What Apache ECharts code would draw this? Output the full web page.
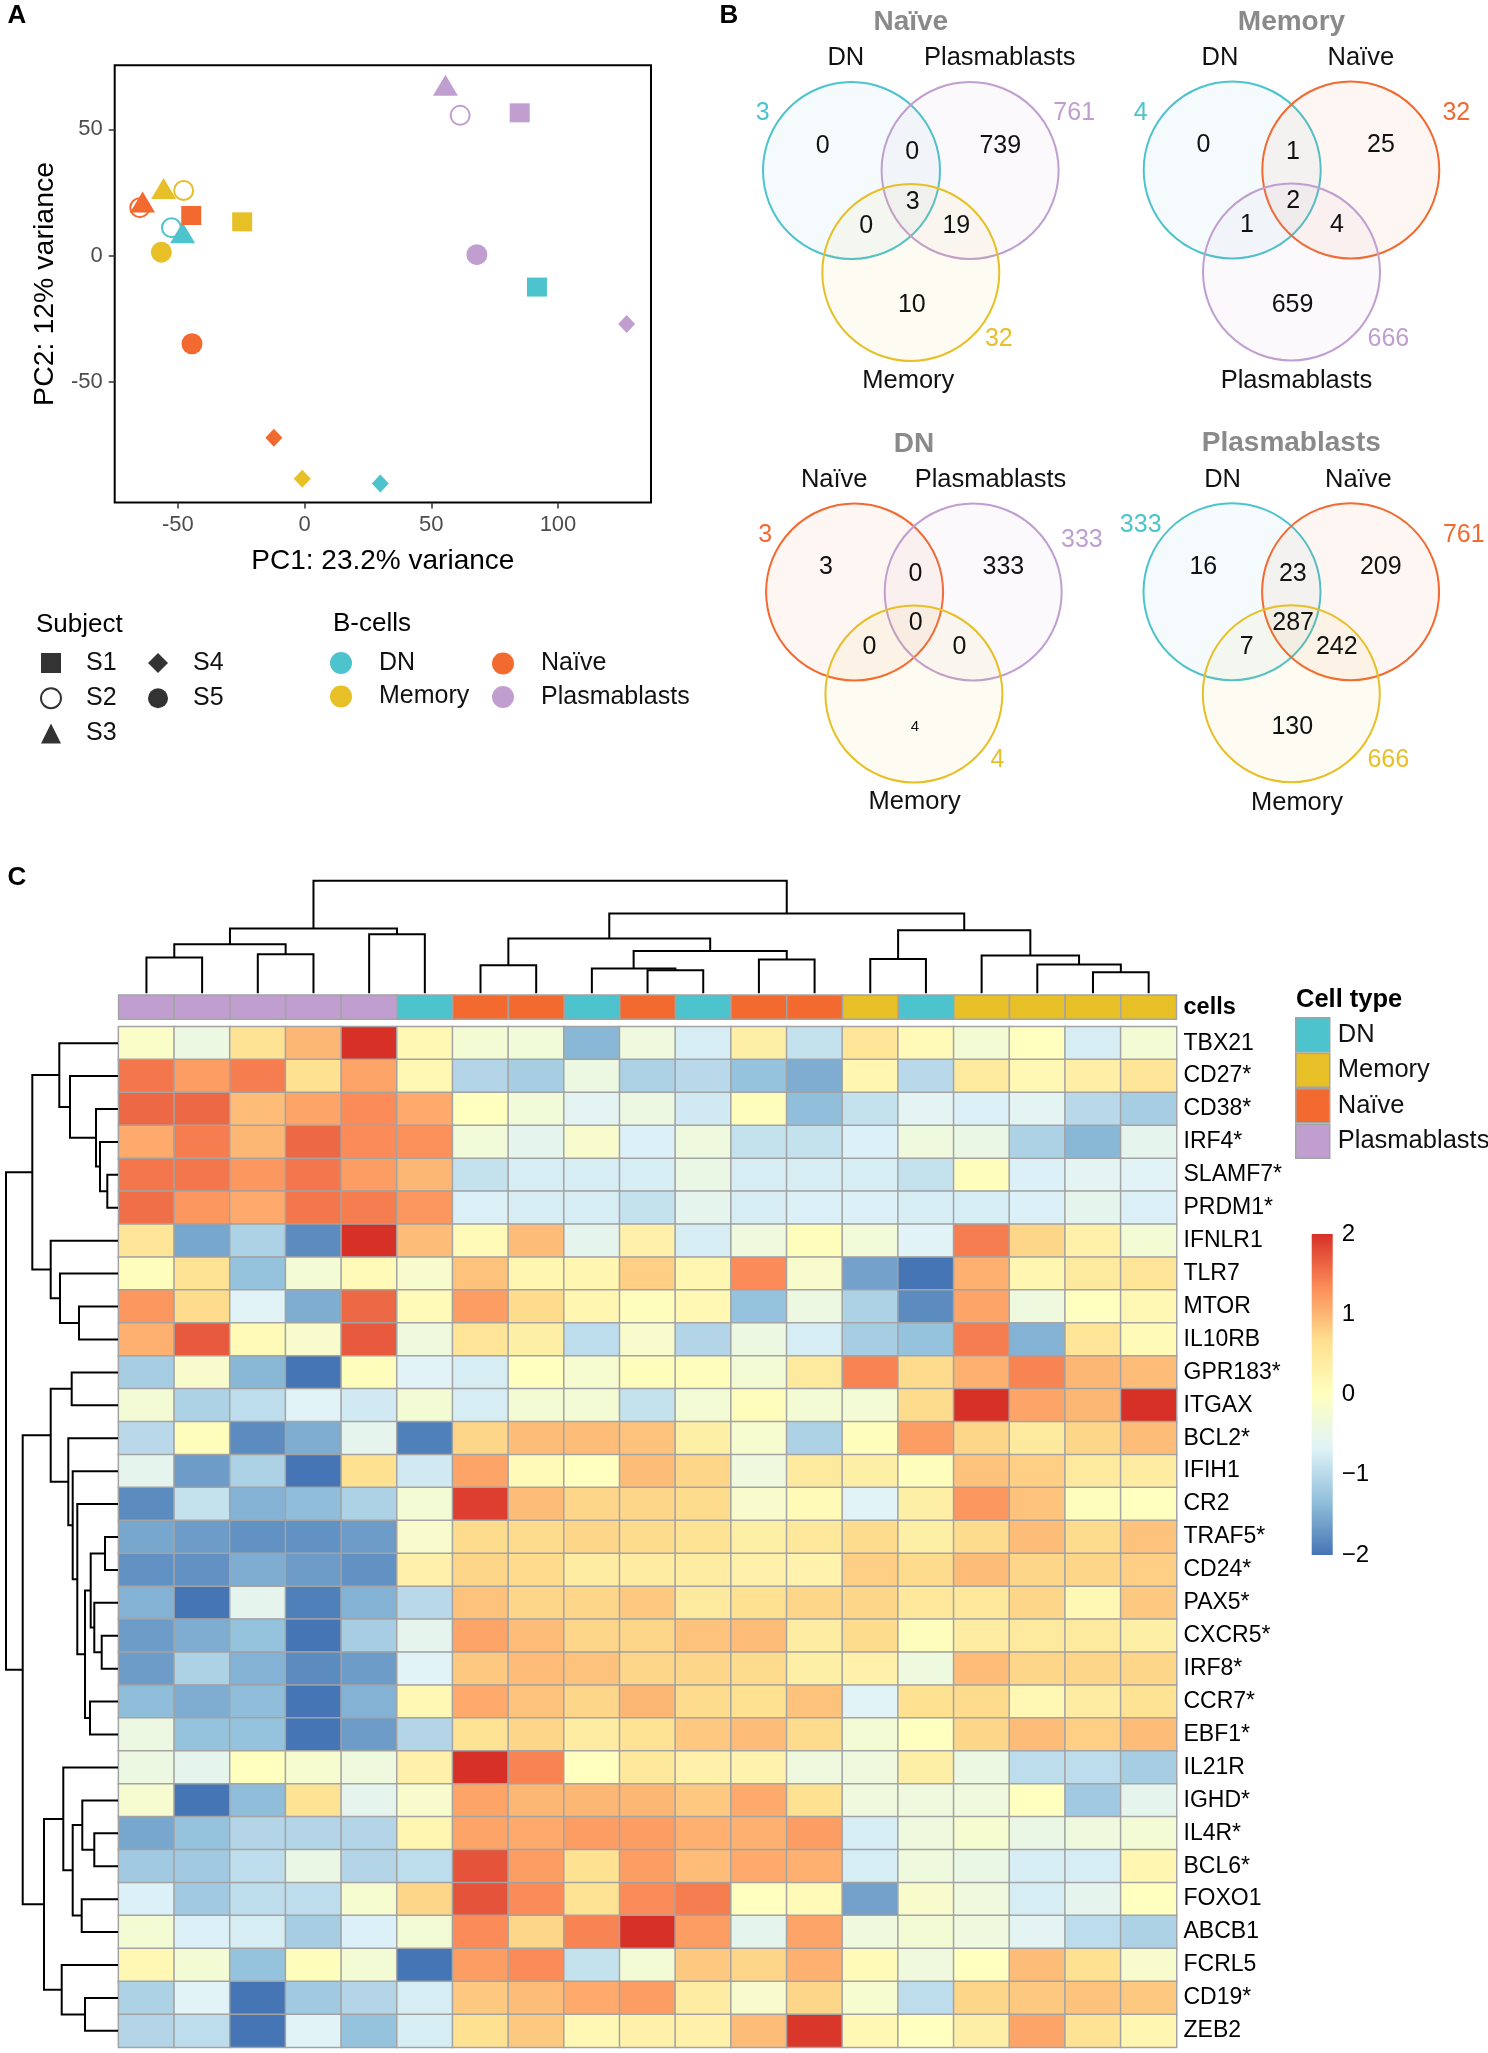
<!DOCTYPE html>
<html><head><meta charset="utf-8">
<script src="https://cdn.jsdelivr.net/npm/echarts@6/dist/echarts.min.js"></script>
<style>html,body{margin:0;padding:0;background:#fff}#c{width:1488px;height:2053px}</style>
</head><body><div id="c"></div>
<script>
const FONT = '"Liberation Sans", Arial, Helvetica, sans-serif';

// ---------- categories ----------
const cellTypes = ['DN', 'Memory', 'Naïve', 'Plasmablasts'];
const typeColors = { 'DN': '#4DC3CD', 'Memory': '#E7BF27', 'Naïve': '#F26A30', 'Plasmablasts': '#C09FD0' };
const subjects = ['S1', 'S2', 'S3', 'S4', 'S5'];
const subjectSymbols = { S1: 'rect', S2: 'emptyCircle', S3: 'triangle', S4: 'diamond', S5: 'circle' };

// ---------- Panel A: PCA ----------
const pcaType    = ['Plasmablasts','Plasmablasts','Plasmablasts','Plasmablasts','Plasmablasts',
                    'Naïve','Naïve','Naïve','Naïve','Naïve',
                    'Memory','Memory','Memory','Memory','Memory',
                    'DN','DN','DN','DN'];
const pcaSubject = ['S1','S2','S3','S4','S5', 'S1','S2','S3','S4','S5', 'S1','S2','S3','S4','S5', 'S1','S2','S3','S4'];
const pc1 = [84.9, 61.4, 55.6, 127.1, 68.0,  -44.7, -65.0, -63.9, -12.1, -44.4,  -24.6, -47.7, -55.6, -0.9, -56.5,  91.7, -52.5, -48.1, 29.9];
const pc2 = [56.5, 55.5, 67.4, -27.0, 0.4,    15.9, 19.0, 21.2, -72.0, -34.8,    13.4, 25.8, 26.6, -88.2, 1.4,    -12.4, 11.1, 9.1, -90.1];
const pcXTicks = [-50, 0, 50, 100];
const pcYTicks = [-50, 0, 50];

// ---------- Panel B: Venn diagrams ----------
const vennTitles = ['Naïve', 'Memory', 'DN', 'Plasmablasts'];
const vennSets = [['DN','Plasmablasts','Memory'], ['DN','Naïve','Plasmablasts'], ['Naïve','Plasmablasts','Memory'], ['DN','Naïve','Memory']];
const vennTotals = [[3, 761, 32], [4, 32, 666], [3, 333, 4], [333, 761, 666]];
// region order: A only, A∩B, B only, A∩B∩C, A∩C, B∩C, C only
const vennRegions = [[0, 0, 739, 3, 0, 19, 10], [0, 1, 25, 2, 1, 4, 659], [3, 0, 333, 0, 0, 0, 4], [16, 23, 209, 287, 7, 242, 130]];

// ---------- Panel C: heatmap ----------
const genes = ['TBX21','CD27*','CD38*','IRF4*','SLAMF7*','PRDM1*','IFNLR1','TLR7','MTOR','IL10RB','GPR183*','ITGAX','BCL2*','IFIH1','CR2',
               'TRAF5*','CD24*','PAX5*','CXCR5*','IRF8*','CCR7*','EBF1*','IL21R','IGHD*','IL4R*','BCL6*','FOXO1','ABCB1','FCRL5','CD19*','ZEB2'];
const colTypes = ['Plasmablasts','Plasmablasts','Plasmablasts','Plasmablasts','Plasmablasts','DN','Naïve','Naïve','DN','Naïve',
                  'DN','Naïve','Naïve','Memory','DN','Memory','Memory','Memory','Memory'];
const colIds = colTypes.map((t, i) => 'c' + (i + 1));
const expr = [
  [-0.1,-0.4,0.6,1.0,2.0,0.15,-0.25,-0.3,-1.4,-0.35,-0.75,0.35,-0.9,0.55,0.1,-0.25,0.0,-0.75,-0.25],
  [1.5,1.2,1.45,0.65,1.15,0.15,-1.05,-1.15,-0.4,-1.1,-1.0,-1.3,-1.5,0.2,-1.0,0.45,0.15,0.35,0.55],
  [1.6,1.6,0.95,1.15,1.35,1.1,0.0,-0.3,-0.6,-0.4,-0.8,0.05,-1.33,-0.9,-0.6,-0.7,-0.6,-1.0,-1.15],
  [1.1,1.45,1.0,1.6,1.35,1.3,-0.3,-0.55,-0.15,-0.7,-0.35,-0.9,-0.9,-0.7,-0.35,-0.45,-1.1,-1.4,-0.55],
  [1.5,1.5,1.25,1.5,1.2,1.0,-0.9,-0.75,-0.75,-0.75,-0.45,-0.75,-0.75,-0.75,-0.9,0.05,-0.7,-0.6,-0.65],
  [1.55,1.25,1.1,1.5,1.45,1.25,-0.7,-0.75,-0.75,-0.9,-0.55,-0.75,-0.7,-0.7,-0.75,-0.75,-0.7,-0.55,-0.7],
  [0.55,-1.55,-1.1,-1.8,2.0,0.95,0.1,0.95,-0.55,0.3,-0.75,-0.35,0.05,-0.3,-0.65,1.45,0.75,0.3,-0.25],
  [0.05,0.6,-1.3,-0.25,0.1,-0.15,0.9,0.2,0.2,0.8,0.2,1.35,-0.15,-1.6,-2.0,1.05,0.2,0.45,0.55],
  [1.25,0.7,-0.65,-1.5,1.6,0.1,1.2,0.7,0.2,0.05,0.15,-1.3,-0.4,-1.1,-1.8,1.15,-0.35,0.0,0.15],
  [1.05,1.7,0.1,-0.15,1.7,-0.35,0.55,0.35,-0.95,-0.15,-1.05,-0.4,-0.75,-1.15,-1.3,1.45,-1.45,0.55,0.1],
  [-1.15,-0.15,-1.4,-2.0,0.05,-0.65,-0.75,0.0,-0.2,0.05,0.05,-0.25,0.45,1.4,0.7,1.05,1.4,1.0,0.95],
  [-0.25,-1.1,-0.95,-0.65,-0.8,-0.25,-0.75,-0.25,-0.25,-0.9,-0.25,0.05,-0.25,-0.25,0.7,2.0,1.15,1.0,2.0],
  [-1.0,0.05,-1.8,-1.5,-0.55,-1.9,0.75,0.95,0.95,0.9,0.35,-0.2,-1.1,0.05,1.2,0.75,0.45,0.75,0.95],
  [-0.55,-1.65,-1.1,-2.0,0.65,-0.8,1.15,0.1,0.0,0.95,0.75,-0.35,0.45,0.35,0.05,0.9,0.8,0.45,0.4],
  [-1.8,-0.9,-1.45,-1.35,-1.1,-0.25,1.9,0.95,0.75,0.75,0.7,-0.15,0.1,-0.65,0.35,1.25,0.9,0.05,0.0],
  [-1.55,-1.65,-1.75,-1.75,-1.65,-0.15,0.7,0.7,0.75,0.7,0.6,0.35,0.5,0.7,0.35,0.7,0.95,0.7,0.9],
  [-1.75,-1.75,-1.5,-1.65,-1.75,0.3,0.75,0.7,0.4,0.4,0.4,0.3,0.25,0.8,0.7,0.95,0.75,0.75,0.8],
  [-1.45,-2.0,-0.55,-1.9,-1.45,-1.0,0.9,0.75,0.75,0.85,0.45,0.65,0.75,0.75,0.5,0.5,0.75,0.15,0.85],
  [-1.65,-1.5,-1.3,-2.0,-1.15,-0.55,1.15,0.95,0.75,0.75,0.9,0.95,0.4,0.7,0.05,0.4,0.45,0.45,0.35],
  [-1.65,-1.1,-1.45,-1.8,-1.65,-0.65,0.85,0.95,0.9,0.75,0.75,0.7,0.35,0.3,-0.35,0.95,0.75,0.75,0.75],
  [-1.35,-1.5,-1.35,-2.0,-1.45,0.15,1.1,0.9,0.75,1.0,0.7,0.65,0.9,-0.65,0.65,0.7,0.15,0.4,0.6],
  [-0.4,-1.3,-1.3,-2.0,-1.65,-1.05,0.6,0.75,0.4,0.6,0.85,0.95,0.7,-0.25,0.0,0.75,0.95,0.8,0.95],
  [-0.4,-0.55,0.0,-0.2,-0.35,0.3,2.0,1.4,0.0,0.5,0.3,0.25,-0.35,-0.35,0.35,-0.4,-0.95,-0.95,-1.15],
  [-0.2,-2.0,-1.35,0.6,-0.55,-0.15,1.15,1.0,1.0,1.0,0.85,1.1,0.65,-0.35,-0.35,-0.35,0.0,-1.2,-0.55],
  [-1.55,-1.3,-1.05,-1.05,-1.05,0.2,1.15,1.1,1.2,1.2,1.05,1.05,1.2,-0.75,-0.35,-0.2,-0.45,-0.35,-0.25],
  [-1.2,-1.2,-0.95,-0.45,-1.05,-0.95,1.75,1.2,0.65,1.2,0.95,1.1,1.05,-0.75,-0.35,-0.45,-0.75,-0.75,0.2],
  [-0.7,-1.2,-0.95,-0.95,-0.2,0.75,1.75,1.35,0.6,1.35,1.45,0.0,0.1,-1.6,-0.15,-0.35,-0.75,-0.55,0.0],
  [-0.25,-0.7,-0.75,-1.15,-0.7,-0.25,1.35,0.75,1.4,2.0,1.2,-0.55,1.15,-0.35,-0.25,-0.35,-0.6,-0.95,-1.1],
  [0.15,-0.25,-1.3,0.05,-0.25,-2.0,1.2,1.35,-0.9,-0.25,0.85,0.75,1.05,0.1,-0.35,0.0,0.95,0.65,-0.15],
  [-1.1,-0.65,-2.0,-1.2,-1.05,-0.75,0.85,0.95,1.1,1.2,0.4,-0.15,0.75,-0.2,-0.95,0.75,0.85,0.9,0.85],
  [-1.05,-0.95,-2.0,-0.65,-1.3,-0.75,0.65,0.85,0.15,0.3,0.3,0.95,1.95,0.15,0.0,0.35,1.15,0.6,0.2]
];
const colorbarTicks = [-2, -1, 0, 1, 2];
// dendrograms: [mergeHeight, left, right]; leaves are column / row indices
const colTree = [112.3,
  [64.7, [49, [35.7, 0, 1], [39, 2, 3]], [59, 4, 5]],
  [79.7,
    [54.7, [28, 6, 7], [42.3, [24.7, 8, [23, 9, 10]], [33.7, 11, 12]]],
    [63, [34.3, 13, 14], [37.7, 15, [28.7, 16, [21, 17, 18]]]]]];
const rowUpper = [85.7,
  [58.7, 0, [48, 1, [22, 2, [18, 3, [10.7, 4, 5]]]]],
  [67.3, 6, [58, 7, [39, 8, 9]]]];
const rowMid = [67.3, [46.3, 10, 11],
  [49.7, 12, [45.3, 13, [40.7, 14,
    [33, [27.3, [13, 15, 16], [23.7, 17, [16.3, 18, 19]]], [28, 20, 21]]]]]];
const rowLow = [74,
  [54.7, 22, [45.3, [35.7, 23, [23.7, 24, 25]], [36.3, 26, 27]]],
  [56.3, 28, [33, 29, 30]]];
const rowTree = [112, rowUpper, [95.3, rowMid, rowLow]];

// ---------- layout (positions only, not data) ----------
const vennAnchor = [[910.8, 170.5], [1291.5, 170], [913.9, 592], [1291.3, 591.7]];
const vennCircle = [[-59.3, 0], [59.3, 0], [0, 102]];
const vennR = 88.5;
const regionPos = [[-88, -24.5], [1.5, -18], [89.5, -24.5], [1.8, 31.5], [-44.5, 55.5], [45.5, 55.5], [1, 135]];
const totalPos = [
  [[-148, -57], [163.4, -57], [88, 168.8]],
  [[-150.8, -56.7], [164.8, -56.7], [96.9, 169.3]],
  [[-148.6, -57], [168, -52], [83.6, 168]],
  [[-150.6, -66.7], [172.5, -56.7], [97, 168.3]]];
const namePos = [
  [[-65, -112.5], [89, -112.5], [-2.5, 210.5]],
  [[-71.5, -112], [69.3, -112], [5, 211]],
  [[-79.7, -112], [76.6, -112], [0.7, 209.7]],
  [[-68.7, -111.7], [67, -111.7], [5.7, 211.6]]];
const palette = ['#4575B4', '#91BFDB', '#E0F3F8', '#FFFFBF', '#FEE090', '#FC8D59', '#D73027'];
const symbolSizes = { rect: [20, 19], emptyCircle: 19, triangle: [25, 21], diamond: [17, 18], circle: 21 };

function hexA(hex, a) {
  const n = parseInt(hex.slice(1), 16);
  return 'rgba(' + (n >> 16 & 255) + ',' + (n >> 8 & 255) + ',' + (n & 255) + ',' + a + ')';
}
function flattenTree(node, out) {
  if (typeof node === 'number') return { pos: node + 0.5, h: 0 };
  const L = flattenTree(node[1], out), R = flattenTree(node[2], out);
  out.push([L.pos, L.h, R.pos, R.h, node[0]]);
  return { pos: (L.pos + R.pos) / 2, h: node[0] };
}
const colSegs = []; flattenTree(colTree, colSegs);
const rowSegs = []; flattenTree(rowTree, rowSegs);

const grids = [
  { left: 114.7, top: 65.3, width: 536.3, height: 437.2, show: true, borderColor: '#000', borderWidth: 2 }, // 0 PCA
  { left: 118.6, top: 995, width: 1057.9, height: 24.3 },   // 1 annotation
  { left: 118.6, top: 1026.7, width: 1057.9, height: 1020.6 }, // 2 heatmap
  { left: 118.6, top: 880.7, width: 1057.9, height: 112.6 }, // 3 col dendrogram
  { left: 6, top: 1026.7, width: 112, height: 1020.6 },     // 4 row dendrogram
  { left: 1311.7, top: 1234, width: 21, height: 321 }       // 5 colorbar
];
vennAnchor.forEach(a => grids.push({ left: a[0] - 190, top: a[1] - 170, width: 380, height: 420 }));

const hidden = { show: false };
const xAxes = [
  { gridIndex: 0, type: 'value', min: -74.9, max: 136.7, axisLine: { show: false, onZero: false }, splitLine: hidden,
    axisTick: { show: true, length: 6, customValues: pcXTicks, lineStyle: { color: '#333', width: 1.5 } },
    axisLabel: { customValues: pcXTicks, fontSize: 22, color: '#4D4D4D', margin: 11, fontFamily: FONT },
    name: 'PC1: 23.2% variance', nameLocation: 'middle', nameGap: 45, nameTextStyle: { fontSize: 28, color: '#000', fontFamily: FONT } },
  { gridIndex: 1, type: 'category', data: colIds, show: false },
  { gridIndex: 2, type: 'category', data: colIds, show: false },
  { gridIndex: 3, type: 'value', min: 0, max: 19, show: false },
  { gridIndex: 4, type: 'value', min: 0, max: 112, inverse: true, show: false },
  { gridIndex: 5, type: 'value', min: 0, max: 1, show: false }
];
const yAxes = [
  { gridIndex: 0, type: 'value', min: -97.6, max: 75.3, axisLine: { show: false, onZero: false }, splitLine: hidden,
    axisTick: { show: true, length: 6, customValues: pcYTicks, lineStyle: { color: '#333', width: 1.5 } },
    axisLabel: { customValues: pcYTicks, fontSize: 22, color: '#4D4D4D', margin: 12, fontFamily: FONT },
    name: 'PC2: 12% variance', nameLocation: 'middle', nameGap: 55, nameTextStyle: { fontSize: 28.5, color: '#000', fontFamily: FONT } },
  { gridIndex: 1, type: 'category', data: ['cells'], position: 'right', axisLine: hidden, axisTick: hidden,
    axisLabel: { fontSize: 23.5, fontWeight: 'bold', color: '#000', margin: 7, fontFamily: FONT } },
  { gridIndex: 2, type: 'category', data: genes, inverse: true, position: 'right', axisLine: hidden, axisTick: hidden,
    axisLabel: { interval: 0, fontSize: 23, color: '#000', margin: 7, fontFamily: FONT } },
  { gridIndex: 3, type: 'value', min: 0, max: 112.3, show: false },
  { gridIndex: 4, type: 'value', min: 0, max: 31, inverse: true, show: false },
  { gridIndex: 5, type: 'value', min: -2, max: 2, position: 'right', axisLine: hidden, axisTick: hidden, splitLine: hidden,
    axisLabel: { customValues: colorbarTicks, fontSize: 24, color: '#000', margin: 9, fontFamily: FONT,
      formatter: v => String(v).replace('-', '\u2212') } }
];
vennAnchor.forEach((a, k) => {
  xAxes.push({ gridIndex: 6 + k, type: 'value', min: -190, max: 190, show: false });
  yAxes.push({ gridIndex: 6 + k, type: 'value', min: -170, max: 250, inverse: true, show: false });
});

const series = [];
// PCA scatter, one series per cell type
cellTypes.forEach(t => {
  const data = [];
  pcaType.forEach((pt, i) => {
    if (pt !== t) return;
    const sym = subjectSymbols[pcaSubject[i]];
    const item = { value: [pc1[i], pc2[i]], symbol: sym, symbolSize: symbolSizes[sym] };
    if (sym === 'emptyCircle') item.itemStyle = { borderWidth: 2, borderColor: typeColors[t] };
    data.push(item);
  });
  series.push({ name: t, type: 'scatter', xAxisIndex: 0, yAxisIndex: 0, itemStyle: { color: typeColors[t], opacity: 1 }, data, z: 3 });
});
// subject legend carriers
subjects.forEach(s => series.push({ name: s, type: 'scatter', xAxisIndex: 0, yAxisIndex: 0, symbol: subjectSymbols[s], itemStyle: { color: '#000' }, data: [] }));
// heatmap
const heatData = [];
expr.forEach((row, r) => row.forEach((v, c) => heatData.push([c, r, v])));
const heatIndex = series.length;
series.push({ type: 'heatmap', xAxisIndex: 2, yAxisIndex: 2, data: heatData,
  itemStyle: { borderColor: '#A3A3A3', borderWidth: 1.5 }, emphasis: { disabled: true } });
// annotation row
cellTypes.forEach(t => {
  const data = [];
  colTypes.forEach((ct, i) => { if (ct === t) data.push([i, 0]); });
  series.push({ name: t, type: 'custom', xAxisIndex: 1, yAxisIndex: 1, itemStyle: { color: typeColors[t] }, data,
    renderItem(params, api) {
      const p = api.coord([api.value(0), 0]);
      const s = api.size([1, 1]);
      return { type: 'rect', shape: { x: p[0] - s[0] / 2, y: p[1] - s[1] / 2, width: s[0], height: s[1] },
        style: { fill: typeColors[t], stroke: '#A3A3A3', lineWidth: 1.5 } };
    } });
});
// dendrograms
series.push({ type: 'custom', xAxisIndex: 3, yAxisIndex: 3, data: colSegs, silent: true,
  renderItem(params, api) {
    const lp = api.value(0), lh = api.value(1), rp = api.value(2), rh = api.value(3), h = api.value(4);
    return { type: 'polyline', shape: { points: [api.coord([lp, lh]), api.coord([lp, h]), api.coord([rp, h]), api.coord([rp, rh])] },
      style: { stroke: '#000', lineWidth: 2, fill: null } };
  } });
series.push({ type: 'custom', xAxisIndex: 4, yAxisIndex: 4, data: rowSegs, silent: true,
  renderItem(params, api) {
    const lp = api.value(0), lh = api.value(1), rp = api.value(2), rh = api.value(3), h = api.value(4);
    return { type: 'polyline', shape: { points: [api.coord([lh, lp]), api.coord([h, lp]), api.coord([h, rp]), api.coord([rh, rp])] },
      style: { stroke: '#000', lineWidth: 2, fill: null } };
  } });
// colour bar
series.push({ type: 'custom', xAxisIndex: 5, yAxisIndex: 5, data: [[0, 0]], silent: true,
  renderItem(params, api) {
    const a = api.coord([0, 2]), b = api.coord([1, -2]);
    const stops = palette.slice().reverse().map((c, i) => ({ offset: i / (palette.length - 1), color: c }));
    return { type: 'rect', shape: { x: a[0], y: a[1], width: b[0] - a[0], height: b[1] - a[1] },
      style: { fill: { type: 'linear', x: 0, y: 0, x2: 0, y2: 1, colorStops: stops } } };
  } });
// Venn diagrams
vennAnchor.forEach((anchor, k) => {
  series.push({ type: 'custom', xAxisIndex: 6 + k, yAxisIndex: 6 + k, data: [[0, 0]], silent: true,
    renderItem(params, api) {
      const children = [];
      const r = api.size([vennR, 0])[0];
      const txt = (pos, text, color, size, weight) => {
        const p = api.coord(pos);
        return { type: 'text', x: p[0], y: p[1], style: { text: String(text), fill: color, fontSize: size, fontWeight: weight || 'normal',
          fontFamily: FONT, align: 'center', verticalAlign: 'middle' } };
      };
      vennCircle.forEach((c, i) => {
        const p = api.coord(c);
        const col = typeColors[vennSets[k][i]];
        children.push({ type: 'circle', shape: { cx: p[0], cy: p[1], r }, style: { fill: hexA(col, 0.06), stroke: col, lineWidth: 2 } });
      });
      children.push(txt([0, -148], vennTitles[k], '#8A8A8A', 28, 'bold'));
      vennSets[k].forEach((s, i) => {
        children.push(txt(namePos[k][i], s, '#111', 25.5));
        children.push(txt(totalPos[k][i], vennTotals[k][i], typeColors[s], 25));
      });
      vennRegions[k].forEach((v, i) => {
        const small = (k === 2 && i === 6);
        children.push(txt(regionPos[i], v, '#111', small ? 15 : 25));
      });
      return { type: 'group', children };
    } });
});

const legendBase = { orient: 'vertical', padding: 0, selectedMode: false, textStyle: { fontSize: 25, color: '#111', fontFamily: FONT } };
const legends = [
  Object.assign({}, legendBase, { left: 40, top: 650.5, itemWidth: 20, itemHeight: 20, itemGap: 10.2,
    textStyle: Object.assign({}, legendBase.textStyle, { padding: [0, 0, 0, 20] }),
    data: [{ name: 'S1', icon: 'rect' }, { name: 'S2', icon: 'emptyCircle' }, { name: 'S3', icon: 'triangle' }] }),
  Object.assign({}, legendBase, { left: 148, top: 650.5, itemWidth: 20, itemHeight: 20, itemGap: 10.2,
    textStyle: Object.assign({}, legendBase.textStyle, { padding: [0, 0, 0, 20] }),
    data: [{ name: 'S4', icon: 'diamond' }, { name: 'S5', icon: 'circle' }] }),
  Object.assign({}, legendBase, { left: 330, top: 650.5, itemWidth: 22, itemHeight: 22, itemGap: 8.5,
    textStyle: Object.assign({}, legendBase.textStyle, { padding: [0, 0, 0, 22] }),
    data: [{ name: 'DN', icon: 'circle' }, { name: 'Memory', icon: 'circle' }] }),
  Object.assign({}, legendBase, { left: 492, top: 651, itemWidth: 22, itemHeight: 22, itemGap: 8.5,
    textStyle: Object.assign({}, legendBase.textStyle, { padding: [0, 0, 0, 22] }),
    data: [{ name: 'Naïve', icon: 'circle' }, { name: 'Plasmablasts', icon: 'circle' }] }),
  Object.assign({}, legendBase, { left: 1295, top: 1017, itemWidth: 34, itemHeight: 34, itemGap: 0, icon: 'rect',
    itemStyle: { borderColor: '#A3A3A3', borderWidth: 1.5 },
    textStyle: Object.assign({}, legendBase.textStyle, { fontSize: 25.5, padding: [0, 0, 0, 3] }),
    data: cellTypes })
];

const gtext = (x, y, text, size, weight, align) => ({ type: 'text', x, y, silent: true,
  style: { text, fontSize: size, fontWeight: weight || 'normal', fontFamily: FONT, fill: '#000', align: align || 'left', verticalAlign: 'middle' } });

const option = {
  animation: false,
  backgroundColor: '#fff',
  textStyle: { fontFamily: FONT },
  grid: grids, xAxis: xAxes, yAxis: yAxes,
  visualMap: { show: false, type: 'continuous', min: -2, max: 2, seriesIndex: heatIndex, inRange: { color: palette } },
  legend: legends,
  graphic: [
    gtext(17, 16, 'A', 26, 'bold', 'center'),
    gtext(729, 16, 'B', 26, 'bold', 'center'),
    gtext(17, 878, 'C', 26, 'bold', 'center'),
    gtext(36, 625, 'Subject', 26),
    gtext(333, 624, 'B-cells', 26),
    gtext(1296, 1000, 'Cell type', 25.5, 'bold')
  ],
  series
};
const chart = echarts.init(document.getElementById('c'), null, { renderer: 'canvas' });
chart.setOption(option);
</script></body></html>
